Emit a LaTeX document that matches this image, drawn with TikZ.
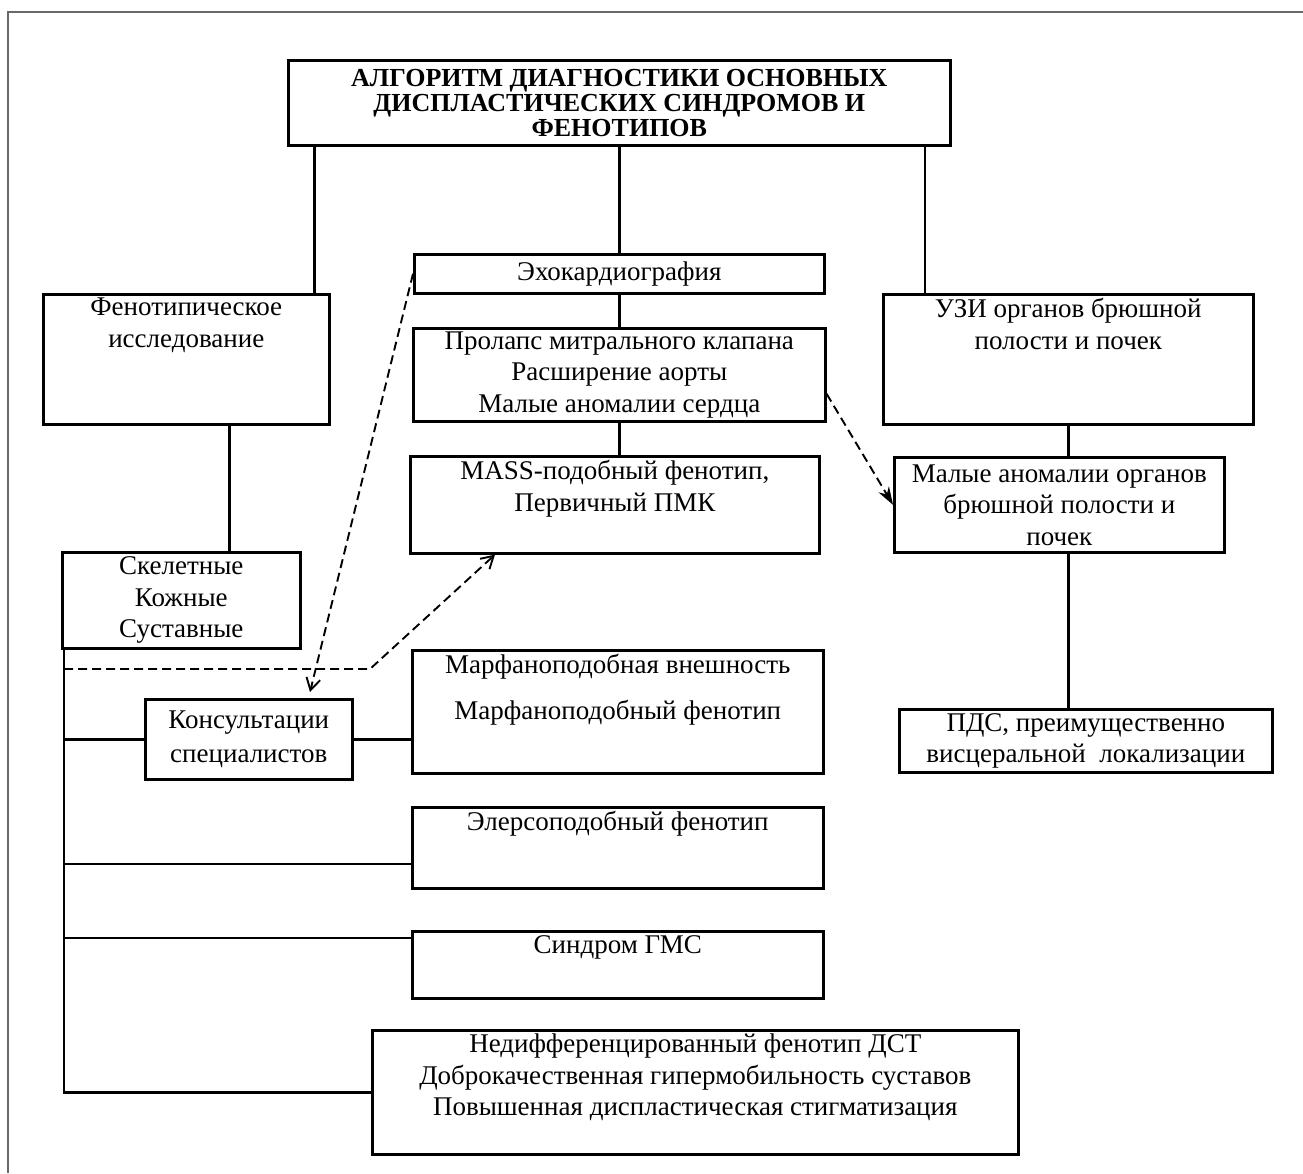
\documentclass[tikz,border=0pt]{standalone}
\usepackage{fontspec}
\setmainfont{Liberation Serif}
\usetikzlibrary{arrows.meta,positioning,calc}
\definecolor{framegray}{RGB}{105,105,105}
\tikzset{
  diagbox/.style={
    rectangle,
    draw=black,
    line width=2.6pt,
    anchor=north west,
    inner sep=0pt,
    align=center,
    font=\fontsize{27}{31.5}\selectfont
  },
  toptext/.style={
    label={[anchor=north, align=center, inner sep=0pt, yshift=-5pt,
      font=\fontsize{27}{31.5}\selectfont]north:{#1}}
  },
  titlefont/.style={font=\bfseries\fontsize{26}{25}\selectfont},
  link/.style={line width=2.4pt, draw=black},
  dashlink/.style={
    line width=1.9pt,
    dash pattern=on 9pt off 5pt,
    -{Straight Barb[length=12pt,width=14pt,line width=1.9pt]}
  },
  dashlinkfill/.style={
    line width=1.9pt,
    dash pattern=on 9pt off 5pt,
    -{Stealth[length=18pt,width=12pt]}
  }
}

\begin{document}
\begin{tikzpicture}[x=1pt,y=-1pt]
\useasboundingbox (0,0) rectangle (1303,1173);
\draw[framegray, line width=2pt] (8,1173) -- (8,12) -- (1303,12);

% boxes
\node[diagbox, titlefont, minimum width=662, minimum height=85] (title) at (287,59)
  {АЛГОРИТМ ДИАГНОСТИКИ ОСНОВНЫХ\\ДИСПЛАСТИЧЕСКИХ СИНДРОМОВ И\\ФЕНОТИПОВ};
\node[diagbox, minimum width=286, minimum height=130,
  toptext={Фенотипическое\\исследование}] (fenotip) at (42,293) {};
\node[diagbox, minimum width=410, minimum height=39] (echo) at (413,253) {Эхокардиография};
\node[diagbox, minimum width=412, minimum height=93] (prolaps) at (412,327)
  {Пролапс митрального клапана\\Расширение аорты\\Малые аномалии сердца};
\node[diagbox, minimum width=409, minimum height=97,
  toptext={MASS-подобный фенотип,\\Первичный ПМК}] (mass) at (409,455) {};
\node[diagbox, minimum width=370, minimum height=130,
  toptext={УЗИ органов брюшной\\полости и почек}] (uzi) at (882,293) {};
\node[diagbox, minimum width=330, minimum height=95] (malye) at (893,456)
  {Малые аномалии органов\\брюшной полости и\\почек};
\node[diagbox, minimum width=373, minimum height=63] (pds) at (898,708)
  {ПДС, преимущественно\\висцеральной\ \ локализации};
\node[diagbox, minimum width=238, minimum height=96] (skel) at (61,551)
  {Скелетные\\Кожные\\Суставные};
\node[diagbox, minimum width=207, minimum height=80] (konsult) at (144,698)
  {Консультации\\[3pt]специалистов};
\node[diagbox, minimum width=411, minimum height=123,
  toptext={Марфаноподобная внешность\\[14pt]Марфаноподобный фенотип}] (marfan) at (411,649) {};
\node[diagbox, minimum width=411, minimum height=81,
  toptext={Элерсоподобный фенотип}] (elers) at (411,806) {};
\node[diagbox, minimum width=411, minimum height=67,
  toptext={Синдром ГМС}] (gms) at (411,930) {};
\node[diagbox, minimum width=646, minimum height=124,
  toptext={Недифференцированный фенотип ДСТ\\Доброкачественная гипермобильность суставов\\Повышенная диспластическая стигматизация}] (nedif) at (371,1029) {};

% solid connectors
\draw[link] (title.south) -- (echo.north);
\coordinate (fenotiptop) at ($(fenotip.north east)+(-16,0)$);
\draw[link] (fenotiptop) -- (fenotiptop |- title.south);
\coordinate (uzitop) at ($(uzi.north west)+(43,0)$);
\draw[link] (uzitop) -- (uzitop |- title.south);
\draw[link] (echo.south) -- (prolaps.north);
\draw[link] (prolaps.south) -- (prolaps.south |- mass.north);
\draw[link] (uzi.south) -- (uzi.south |- malye.north);
\draw[link] (uzi.south |- malye.south) -- (uzi.south |- pds.north);
\coordinate (fenotipbot) at ($(fenotip.south)+(43,0)$);
\draw[link] (fenotipbot) -- (fenotipbot |- skel.north);

% left bus
\coordinate (bustop) at ($(skel.south west)+(3,0)$);
\draw[link] (bustop) |- (nedif.west);
\draw[link] (bustop |- konsult.west) -- (konsult.west);
\draw[link] (konsult.east) -- (konsult.east -| marfan.west);
\coordinate (elersin) at ($(elers.west)+(0,16)$);
\draw[link] (bustop |- elersin) -- (elersin);
\coordinate (gmsin) at ($(gms.north west)+(0,8)$);
\draw[link] (bustop |- gmsin) -- (gmsin);

% dashed arrows
\coordinate (dashbend) at (370,669);
\coordinate (massin) at ($(mass.south west)+(86,0)$);
\draw[dashlink] (bustop |- dashbend) -- (dashbend) -- (massin);
\coordinate (konsultin) at ($(konsult.north west)+(166,-6)$);
\draw[dashlink] (echo.west) -- (konsultin);
\coordinate (prolapsout) at ($(prolaps.east)+(0,19)$);
\draw[dashlinkfill] (prolapsout) -- (malye.west);
\end{tikzpicture}
\end{document}
